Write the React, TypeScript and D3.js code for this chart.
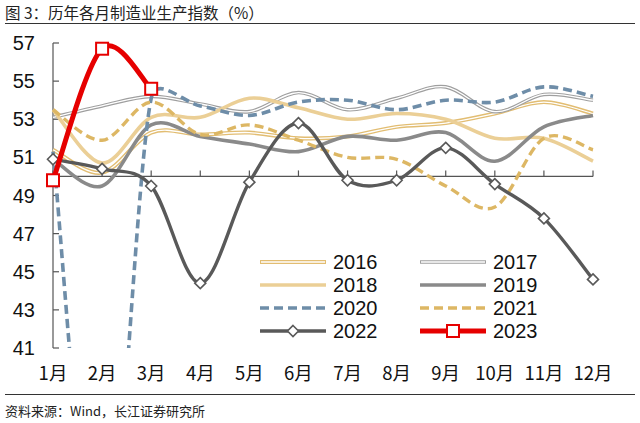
import React from "react";
import * as d3 from "d3";

const months = ["1月","2月","3月","4月","5月","6月","7月","8月","9月","10月","11月","12月"];
const yTicks = [41, 43, 45, 47, 49, 51, 53, 55, 57];

const s2016 = [51.4, 50.2, 52.3, 52.2, 52.3, 52.0, 52.1, 52.6, 52.8, 53.3, 53.9, 53.3];
const s2017 = [53.1, 53.7, 54.2, 53.8, 53.4, 54.4, 53.5, 54.1, 54.7, 53.4, 54.3, 54.0];
const s2018 = [53.5, 50.7, 53.1, 53.1, 54.1, 53.6, 53.0, 53.3, 53.0, 52.0, 52.0, 50.8];
const s2019 = [50.9, 49.5, 52.7, 52.1, 51.7, 51.3, 52.1, 51.9, 52.3, 50.8, 52.6, 53.2];
const s2020 = [51.3, 27.8, 54.1, 53.7, 53.2, 53.9, 54.0, 53.5, 54.0, 53.9, 54.7, 54.2];
const s2021 = [53.5, 51.9, 53.9, 52.2, 52.7, 51.9, 51.0, 50.9, 49.5, 48.4, 52.0, 51.4];
const s2022 = [50.9, 50.4, 49.5, 44.4, 49.7, 52.8, 49.8, 49.8, 51.5, 49.6, 47.8, 44.6];
const s2023 = [49.8, 56.7, 54.6];

type Style = {
  name: string; data: number[]; color: string; width: number;
  dash?: string; inner?: string; innerWidth?: number; marker?: "diamond" | "square";
};

const series: Style[] = [
  { name: "2016", data: s2016, color: "#E2BD72", width: 4, inner: "#fff", innerWidth: 1.3 },
  { name: "2017", data: s2017, color: "#9F9F9F", width: 3.6, inner: "#fff", innerWidth: 1.3 },
  { name: "2018", data: s2018, color: "#EBCF96", width: 3.6 },
  { name: "2019", data: s2019, color: "#8A8A8A", width: 3.6 },
  { name: "2020", data: s2020, color: "#6E8DA8", width: 3.6, dash: "9,5" },
  { name: "2021", data: s2021, color: "#DDB764", width: 3.4, dash: "9,5" },
  { name: "2022", data: s2022, color: "#595959", width: 3.4, marker: "diamond" },
  { name: "2023", data: s2023, color: "#E60000", width: 5, marker: "square" },
];

const FONT = "'Liberation Sans', Arial, 'Noto Sans CJK SC', sans-serif";
const CJK = "'Noto Sans CJK SC', 'Liberation Sans', sans-serif";

// Excel-like smoothed path: cardinal tangents (1/6) with control length capped by segment length
function smoothPath(pts: [number, number][]): string {
  const n = pts.length;
  if (n < 2) return "";
  const path = d3.path();
  path.moveTo(pts[0][0], pts[0][1]);
  const tan = (i: number): [number, number] => {
    const a = pts[Math.max(0, i - 1)];
    const b = pts[Math.min(n - 1, i + 1)];
    return [(b[0] - a[0]) / 6, (b[1] - a[1]) / 6];
  };
  const cap = (t: [number, number], seg: number): [number, number] => {
    const len = Math.hypot(t[0], t[1]);
    const max = 0.5 * seg;
    if (len > max && len > 0) return [t[0] * max / len, t[1] * max / len];
    return t;
  };
  for (let i = 0; i < n - 1; i++) {
    const p = pts[i], q = pts[i + 1];
    const seg = Math.hypot(q[0] - p[0], q[1] - p[1]);
    const t1 = cap(tan(i), seg);
    const t2 = cap(tan(i + 1), seg);
    path.bezierCurveTo(p[0] + t1[0], p[1] + t1[1], q[0] - t2[0], q[1] - t2[1], q[0], q[1]);
  }
  return path.toString();
}

export default function App() {
  const W = 640, H = 423;
  const x = d3.scaleLinear().domain([0, 11]).range([53, 593]);
  const y = d3.scaleLinear().domain([41, 57]).range([348, 43]);
  const line = (data: number[]) => smoothPath(data.map((v, i) => [x(i), y(v)] as [number, number]));

  const marker = (type: string | undefined, cx: number, cy: number, color: string, key: string | number) => {
    if (type === "diamond") {
      const r = 5.5;
      return <path key={key} d={`M${cx},${cy - r}L${cx + r},${cy}L${cx},${cy + r}L${cx - r},${cy}Z`} fill="#fff" stroke={color} strokeWidth={1.6} />;
    }
    if (type === "square") {
      const r = 6;
      return <rect key={key} x={cx - r} y={cy - r} width={2 * r} height={2 * r} fill="#fff" stroke={color} strokeWidth={2} />;
    }
    return null;
  };

  const legendRows = [262, 285, 308, 331];
  const legendCols = [260, 420];

  return (
    <div style={{ position: "fixed", left: 0, top: 0 }}>
      <svg width={W} height={H} style={{ display: "block", background: "#fff" }}>
        <text x={5} y={19} fontFamily={CJK} fontSize={15.5} fill="#222">图 3：历年各月制造业生产指数（%）</text>
        <line x1={5} x2={635} y1={23.5} y2={23.5} stroke="#333" strokeWidth={1.2} />

        {/* y axis */}
        <line x1={53} x2={53} y1={y(57)} y2={y(41)} stroke="#555" strokeWidth={1.2} />
        {yTicks.map((t) => (
          <g key={t}>
            <line x1={53} x2={59} y1={y(t)} y2={y(t)} stroke="#555" strokeWidth={1.2} />
            <text x={35} y={y(t)} dy="0.35em" textAnchor="end" fontFamily={FONT} fontSize={20} fill="#111">{t}</text>
          </g>
        ))}
        {/* x axis at 50 */}
        <line x1={53} x2={593} y1={y(50)} y2={y(50)} stroke="#555" strokeWidth={1.2} />
        {months.map((m, i) => (
          <g key={m}>
            <line x1={x(i)} x2={x(i)} y1={y(50)} y2={y(50) - 6} stroke="#555" strokeWidth={1.2} />
            <text x={x(i)} y={380} textAnchor="middle" fontFamily={CJK} fontSize={18.5} fill="#111">{m}</text>
          </g>
        ))}

        <defs>
          <clipPath id="plotclip">
            <rect x={40} y={0} width={580} height={348} />
          </clipPath>
        </defs>

        <g clipPath="url(#plotclip)">
          {series.map((s) => (
            <g key={s.name}>
              <path d={line(s.data)} fill="none" stroke={s.color} strokeWidth={s.width}
                strokeDasharray={s.dash} strokeLinejoin="round" />
              {s.inner && (
                <path d={line(s.data)} fill="none" stroke={s.inner} strokeWidth={s.innerWidth} />
              )}
              {s.marker && s.data.map((v, i) => marker(s.marker, x(i), y(v), s.color, i))}
            </g>
          ))}
        </g>

        {/* legend */}
        {series.map((s, i) => {
          const cx = legendCols[i % 2];
          const cy = legendRows[Math.floor(i / 2)];
          return (
            <g key={s.name}>
              <line x1={cx} x2={cx + 66} y1={cy} y2={cy} stroke={s.color} strokeWidth={s.width}
                strokeDasharray={s.dash} />
              {s.inner && <line x1={cx + 1} x2={cx + 65} y1={cy} y2={cy} stroke={s.inner} strokeWidth={s.innerWidth} />}
              {s.marker && marker(s.marker, cx + 33, cy, s.color, "m")}
              <text x={cx + 73} y={cy} dy="0.35em" fontFamily={FONT} fontSize={20} fill="#111">{s.name}</text>
            </g>
          );
        })}

        <line x1={5} x2={635} y1={394.5} y2={394.5} stroke="#333" strokeWidth={1.2} />
        <text x={5} y={416} fontFamily={CJK} fontSize={13} fill="#222">资料来源：Wind，长江证券研究所</text>
      </svg>
    </div>
  );
}
